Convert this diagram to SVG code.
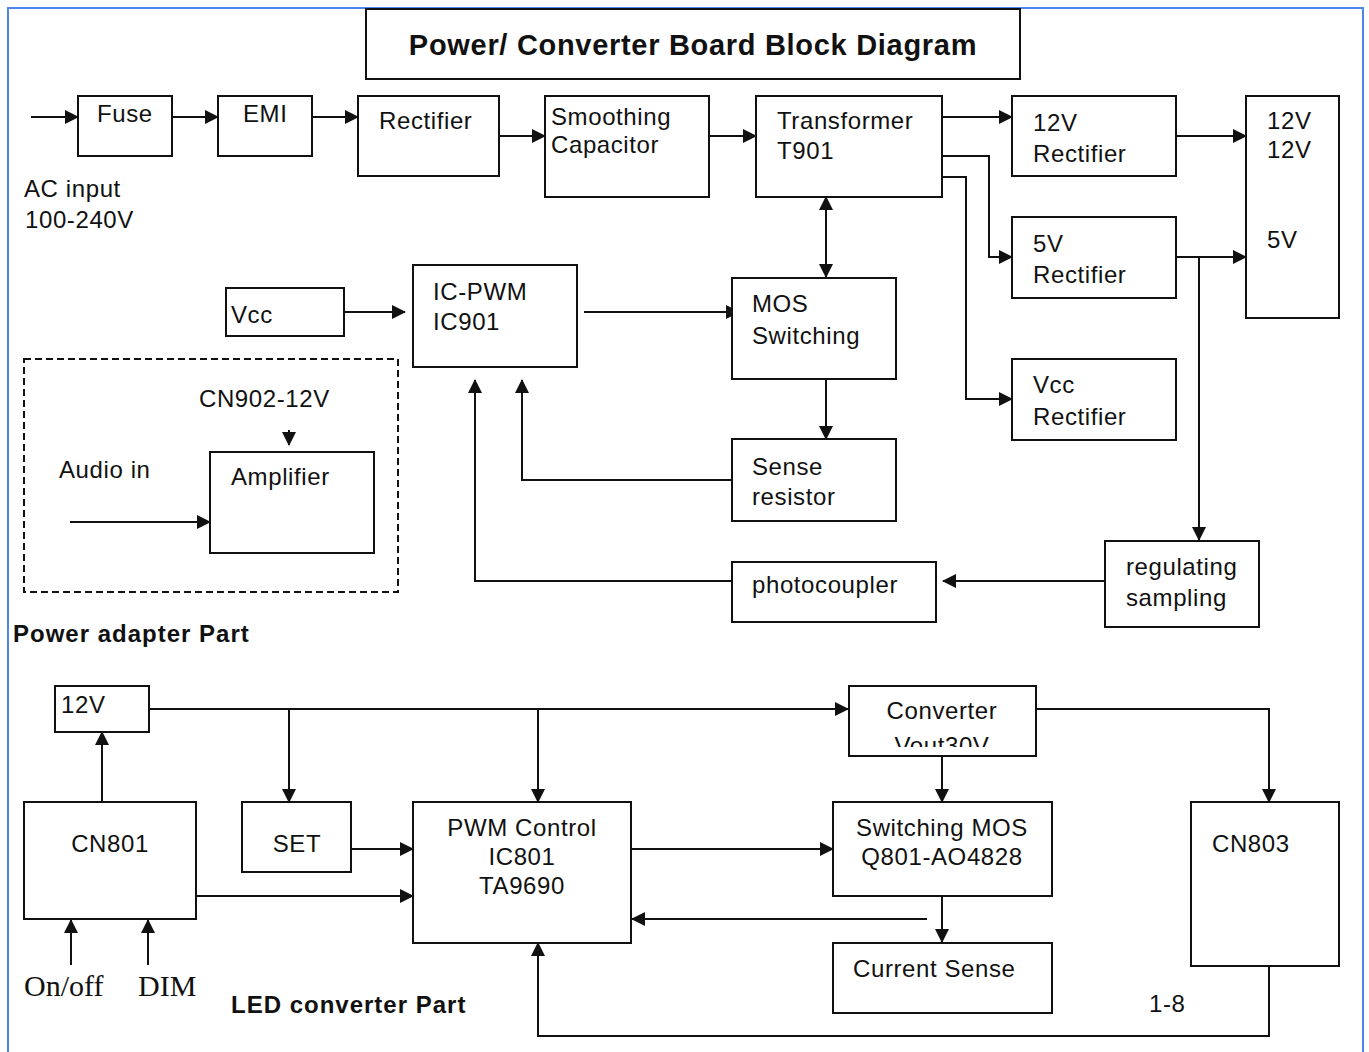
<svg xmlns="http://www.w3.org/2000/svg" width="1369" height="1052" viewBox="0 0 1369 1052">
<defs>
<marker id="ah" markerUnits="userSpaceOnUse" markerWidth="14" markerHeight="14" viewBox="0 0 14 14" refX="13" refY="7" orient="auto-start-reverse">
<path d="M0,0 L14,7 L0,14 z" fill="#111"/>
</marker>
<clipPath id="convclip"><rect x="850" y="687" width="184" height="60"/></clipPath>
</defs>
<style>
.box{fill:#fff;stroke:#111;stroke-width:2}
.ln{fill:none;stroke:#111;stroke-width:2}
.ar{fill:none;stroke:#111;stroke-width:2;marker-end:url(#ah)}
.t{font-family:"Liberation Sans",Arial,sans-serif;font-size:24px;letter-spacing:0.6px;fill:#111}
.c{text-anchor:middle}
.b{font-family:"Liberation Sans",Arial,sans-serif;font-weight:bold;font-size:24px;letter-spacing:1px;fill:#111}
.s{font-family:"Liberation Serif","Times New Roman",serif;font-size:30px;fill:#111}
</style>
<rect width="1369" height="1052" fill="#fff"/>
<path d="M8,1052 V8 H1363 V1052" fill="none" stroke="#4f86ec" stroke-width="2"/>

<g id="title">
<rect class="box" x="366" y="9" width="654" height="70"/>
<text x="693" y="55" text-anchor="middle" font-family="Liberation Sans, Arial, sans-serif" font-weight="bold" font-size="29" letter-spacing="0.7" fill="#111">Power/ Converter Board Block Diagram</text>
</g>

<g id="connectors">
<path class="ar" d="M31,117 H78"/>
<path class="ar" d="M172,117 H218"/>
<path class="ar" d="M312,117 H358"/>
<path class="ar" d="M499,136 H545"/>
<path class="ar" d="M709,136 H756"/>
<path class="ar" d="M942,117 H1012"/>
<path class="ar" d="M942,156 H989 V257 H1012"/>
<path class="ar" d="M942,177 H966 V399 H1012"/>
<path class="ar" d="M1176,136 H1246"/>
<path class="ar" d="M1176,257 H1246"/>
<path class="ar" d="M1199,257 V540"/>
<path class="ar" d="M1105,581 H943"/>
<path class="ar" d="M732,581 H475 V380"/>
<path class="ar" d="M732,480 H522 V380"/>
<path class="ar" d="M335,312 H405"/>
<path class="ar" d="M584,312 H739"/>
<path class="ar" d="M826,197 V277" style="marker-start:url(#ah)"/>
<path class="ar" d="M826,379 V439"/>
<path class="ar" d="M289,430 V445"/>
<path class="ar" d="M70,522 H210"/>
<path class="ar" d="M102,802 V732"/>
<path class="ar" d="M71,965 V920"/>
<path class="ar" d="M148,965 V920"/>
<path class="ar" d="M149,709 H848"/>
<path class="ar" d="M289,709 V802"/>
<path class="ar" d="M538,709 V802"/>
<path class="ar" d="M351,849 H413"/>
<path class="ar" d="M196,896 H413"/>
<path class="ar" d="M631,849 H833"/>
<path class="ar" d="M927,919 H632"/>
<path class="ar" d="M942,756 V802"/>
<path class="ar" d="M1036,709 H1269 V802"/>
<path class="ar" d="M942,896 V942"/>
<path class="ar" d="M1269,966 V1036 H538 V943"/>
</g>

<g id="fuse"><rect class="box" x="78" y="96" width="94" height="60"/><text class="t" x="97" y="122">Fuse</text></g>
<g id="emi"><rect class="box" x="218" y="96" width="94" height="60"/><text class="t" x="243" y="122">EMI</text></g>
<g id="ac-input"><text class="t" x="24" y="197">AC input</text><text class="t" x="25" y="228">100-240V</text></g>
<g id="rectifier"><rect class="box" x="358" y="96" width="141" height="80"/><text class="t" x="379" y="129">Rectifier</text></g>
<g id="smoothing"><rect class="box" x="545" y="96" width="164" height="101"/><text class="t" x="551" y="125">Smoothing</text><text class="t" x="551" y="153">Capacitor</text></g>
<g id="transformer"><rect class="box" x="756" y="96" width="186" height="101"/><text class="t" x="777" y="129">Transformer</text><text class="t" x="777" y="159">T901</text></g>
<g id="rect12"><rect class="box" x="1012" y="96" width="164" height="80"/><text class="t" x="1033" y="131">12V</text><text class="t" x="1033" y="162">Rectifier</text></g>
<g id="rect5"><rect class="box" x="1012" y="217" width="164" height="81"/><text class="t" x="1033" y="252">5V</text><text class="t" x="1033" y="283">Rectifier</text></g>
<g id="rectvcc"><rect class="box" x="1012" y="359" width="164" height="81"/><text class="t" x="1033" y="393">Vcc</text><text class="t" x="1033" y="425">Rectifier</text></g>
<g id="outputs"><rect class="box" x="1246" y="96" width="93" height="222"/><text class="t" x="1267" y="129">12V</text><text class="t" x="1267" y="158">12V</text><text class="t" x="1267" y="248">5V</text></g>
<g id="vcc"><rect class="box" x="226" y="288" width="118" height="48"/><text class="t" x="231" y="323">Vcc</text></g>
<g id="icpwm"><rect class="box" x="413" y="265" width="164" height="102"/><text class="t" x="433" y="300">IC-PWM</text><text class="t" x="433" y="330">IC901</text></g>
<g id="mos"><rect class="box" x="732" y="278" width="164" height="101"/><text class="t" x="752" y="312">MOS</text><text class="t" x="752" y="344">Switching</text></g>
<g id="sense"><rect class="box" x="732" y="439" width="164" height="82"/><text class="t" x="752" y="475">Sense</text><text class="t" x="752" y="505">resistor</text></g>
<g id="photocoupler"><rect class="box" x="732" y="562" width="204" height="60"/><text class="t" x="752" y="593">photocoupler</text></g>
<g id="regulating"><rect class="box" x="1105" y="541" width="154" height="86"/><text class="t" x="1126" y="575">regulating</text><text class="t" x="1126" y="606">sampling</text></g>
<g id="audio-group">
<rect x="24" y="359" width="374" height="233" fill="none" stroke="#111" stroke-width="2" stroke-dasharray="7,4"/>
<text class="t" x="199" y="407">CN902-12V</text>
<text class="t" x="59" y="478">Audio in</text>
</g>
<g id="amplifier"><rect class="box" x="210" y="452" width="164" height="101"/><text class="t" x="231" y="485">Amplifier</text></g>
<text class="b" x="13" y="642">Power adapter Part</text>

<g id="v12"><rect class="box" x="55" y="686" width="94" height="46"/><text class="t" x="61" y="713">12V</text></g>
<g id="cn801"><rect class="box" x="24" y="802" width="172" height="117"/><text class="t c" x="110" y="852">CN801</text></g>
<g id="inputs"><text class="s" x="24" y="996">On/off</text><text class="s" x="138" y="996">DIM</text></g>
<g id="set"><rect class="box" x="242" y="802" width="109" height="70"/><text class="t c" x="297" y="852">SET</text></g>
<g id="pwm"><rect class="box" x="413" y="802" width="218" height="141"/><text class="t c" x="522" y="836">PWM Control</text><text class="t c" x="522" y="865">IC801</text><text class="t c" x="522" y="894">TA9690</text></g>
<g id="converter"><rect class="box" x="849" y="686" width="187" height="70"/><text class="t c" x="942" y="719">Converter</text><text class="t c" x="942" y="754" clip-path="url(#convclip)">Vout30V</text></g>
<g id="switching"><rect class="box" x="833" y="802" width="219" height="94"/><text class="t c" x="942" y="836">Switching MOS</text><text class="t c" x="942" y="865">Q801-AO4828</text></g>
<g id="current"><rect class="box" x="833" y="943" width="219" height="70"/><text class="t" x="853" y="977">Current Sense</text></g>
<g id="cn803"><rect class="box" x="1191" y="802" width="148" height="164"/><text class="t" x="1212" y="852">CN803</text></g>
<text class="t" x="1149" y="1012">1-8</text>
<text class="b" x="231" y="1013">LED converter Part</text>
</svg>
